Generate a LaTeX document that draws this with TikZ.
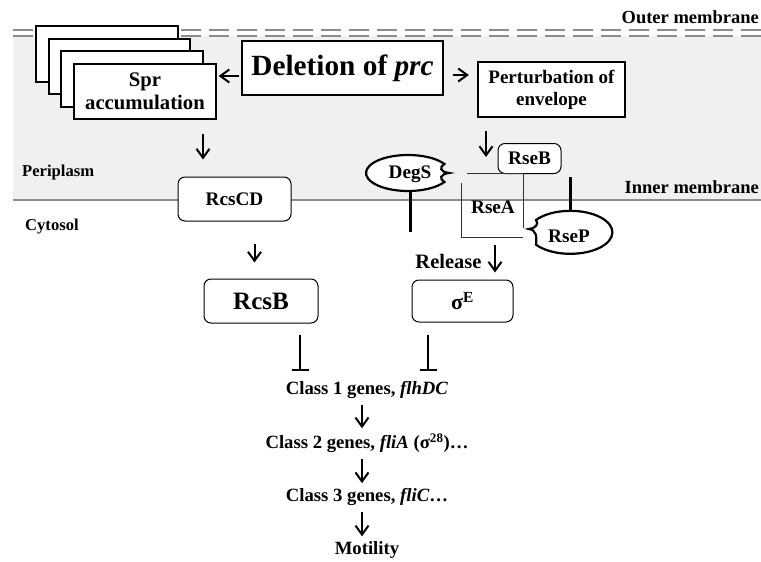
\documentclass[tikz,border=0pt]{standalone}
\usepackage{fontspec}
\setmainfont{Liberation Serif}
\usetikzlibrary{arrows.meta}
\begin{document}
\begin{tikzpicture}[x=1pt,y=-1pt,
  box/.style={draw, fill=white, line width=1.3pt, align=center, inner sep=0pt},
  rbox/.style={draw, fill=white, rounded corners=7pt, line width=1pt, inner sep=0pt, align=center},
  arr/.style={line width=2pt, -{Straight Barb[length=9pt,width=13pt,line width=2pt]}},
  inh/.style={line width=2.5pt, -{Bar[width=17pt,line width=2.5pt]}},
  lbl/.style={font=\bfseries\fontsize{16.6}{19}\selectfont, inner sep=0pt},
  mem/.style={font=\bfseries\fontsize{18.5}{21}\selectfont, inner sep=0pt},
  gene/.style={font=\bfseries\fontsize{18.7}{21}\selectfont, inner sep=0pt},
  prot/.style={font=\bfseries\fontsize{19.2}{22}\selectfont, inner sep=0pt},
  memline/.style={line width=2.5pt, draw=black!45}
]
\useasboundingbox (0,0) rectangle (761,562);
% periplasm background
\fill[black!6] (13,36) rectangle (761,200);
% outer membrane (double dashed)
\draw[memline, dash pattern=on 20pt off 8pt] (13,30) -- (761,30);
\draw[memline, dash pattern=on 20pt off 8pt] (13,36) -- (761,36);
% inner membrane
\draw[memline] (13,200) -- (761,200);

\node[mem, anchor=east] (outer) at (759,17) {Outer membrane};
\node[mem, anchor=east] (inner) at (759,187) {Inner membrane};
\node[lbl, anchor=west] (peri) at (22,173) {Periplasm};
\node[lbl, anchor=west] (cyto) at (25,227) {Cytosol};

% Spr stack
\draw[line width=1.3pt, fill=white] (36,26) rectangle (178,82);
\draw[line width=1.3pt, fill=white] (49,39) rectangle (190,94);
\draw[line width=1.3pt, fill=white] (61,51) rectangle (203,107);
\node[box, minimum width=142pt, minimum height=55pt, font=\bfseries\fontsize{20.7}{23}\selectfont] (spr) at (145,91.5) {Spr\\accumulation};

\node[box, minimum width=201pt, minimum height=54pt, font=\bfseries\fontsize{29.3}{32}\selectfont] (del) at (342.5,68) {Deletion of \textit{prc}};
\node[box, line width=2.2pt, minimum width=147pt, minimum height=55pt, font=\bfseries\fontsize{19}{22}\selectfont] (pert) at (551.5,89.5) {Perturbation of\\envelope};

\draw[arr, shorten <=2pt, shorten >=2pt] ([yshift=-8pt]del.west) -- ([yshift=-8pt]del.west -| spr.east);
\draw[arr, shorten <=9pt, shorten >=8pt] ([yshift=-7pt]del.east) -- ([yshift=-7pt]del.east -| pert.west);

% Rcs branch
\node[rbox, minimum width=113pt, minimum height=44pt, font=\bfseries\fontsize{19.2}{22}\selectfont] (rcscd) at (234.5,199) {RcsCD};
\node[rbox, minimum width=114pt, minimum height=44pt, font=\bfseries\fontsize{25}{28}\selectfont] (rcsb) at (261,301) {RcsB};
\draw[arr, shorten <=14pt, shorten >=17pt] ([xshift=58pt]spr.south) -- ([xshift=58pt]spr.south |- rcscd.north);
\draw[arr, shorten <=22pt, shorten >=16pt] ([xshift=20pt]rcscd.south) -- ([xshift=20pt]rcscd.south |- rcsb.north);

% sigma E branch
\node[rbox, minimum width=63pt, minimum height=30pt, font=\bfseries\fontsize{19.2}{22}\selectfont] (rseb) at (529.5,158.5) {RseB};
\draw[arr, shorten <=13pt] ([xshift=-65.5pt]pert.south) -- ([xshift=-65.5pt]pert.south |- 0,157);

% RseA
\node[prot] (rsea) at (493,207) {RseA};
\draw[line width=0.9pt, draw=black!80] (467,173) -- (523,173) -- (523,228);
\draw[line width=0.9pt, draw=black!80] (461,183) -- (461,237) -- (523,237);

% DegS
\draw[line width=2.2pt, fill=white] (444.4,164) arc[start angle=30, end angle=330, x radius=42pt, y radius=18pt]
  .. controls (439,179) and (440,174) .. (449,173) .. controls (440,172) and (439,167) .. cycle;
\node[prot] (degs) at (410,174) {DegS};
\draw[line width=3pt] (410,191) -- (410,232);

% RseP
\draw[line width=3pt] (570,177) -- (570,212);
\draw[line width=2.2pt, fill=white] (536,220) arc[start angle=145, end angle=-145, x radius=42pt, y radius=21.5pt]
  .. controls (537,236) and (536,230) .. (529,229) .. controls (536,228) and (539,224) .. cycle;
\node[prot] (rsep) at (569,236) {RseP};

\node[font=\bfseries\fontsize{20.5}{23}\selectfont, inner sep=0pt] (rel) at (448.5,261) {Release};
\node[rbox, minimum width=101pt, minimum height=42pt, font=\bfseries\fontsize{22}{26}\selectfont] (sigE) at (462.5,301) {σ\textsuperscript{E}};
\draw[arr, shorten >=7pt] (495,245) -- (495,245 |- sigE.north);

% gene cascade
\node[gene] (c1) at (367,390) {Class 1 genes, \textit{flhDC}};
\node[gene] (c2) at (367,443) {Class 2 genes, \textit{fliA} (σ\textsuperscript{28})…};
\node[gene] (c3) at (367,497) {Class 3 genes, \textit{fliC}…};
\node[gene] (mot) at (367,550) {Motility};

\draw[inh, shorten <=11pt, shorten >=10pt] ([xshift=39pt]rcsb.south) -- ([xshift=39pt]rcsb.south |- c1.north);
\draw[inh, shorten <=12pt, shorten >=10pt] ([xshift=-34.5pt]sigE.south) -- ([xshift=-34.5pt]sigE.south |- c1.north);

\draw[arr, shorten <=6pt, shorten >=5pt] ([xshift=-5pt]c1.south) -- ([xshift=-5pt]c1.south |- c2.north);
\draw[arr, shorten <=6pt, shorten >=5pt] ([xshift=-5pt]c2.south) -- ([xshift=-5pt]c2.south |- c3.north);
\draw[arr, shorten <=6pt, shorten >=5pt] ([xshift=-5pt]c3.south) -- ([xshift=-5pt]c3.south |- mot.north);
\end{tikzpicture}
\end{document}
